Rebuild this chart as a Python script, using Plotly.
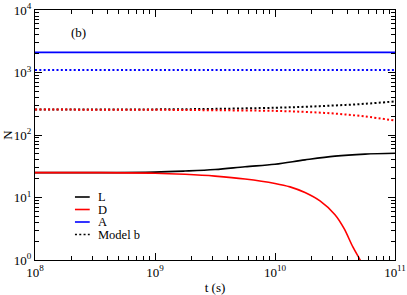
import plotly.graph_objects as go

# time points (seconds)
t_L = [1e8, 10**8.5, 1e9, 10**9.25, 10**9.5, 10**9.75, 1e10, 10**10.25, 10**10.5, 10**10.75, 1e11]
N_L = [25, 25, 25.5, 26.5, 28, 31, 34, 40, 46, 49.5, 51]

t_D = [1e8, 10**8.5, 1e9, 10**9.25, 10**9.5, 10**9.75, 1e10, 10**10.125, 10**10.25, 10**10.375,
       10**10.5, 10**10.575, 10**10.65, 10**10.71, 10**10.75]
N_D = [25, 25, 24.5, 23.5, 22, 19.8, 16.8, 14.8, 12, 8.8, 5.3, 3.2, 1.6, 1.0, 0.7]

t_A = [1e8, 1e11]
N_A = [2100, 2100]

t_model = [1e8, 1e9, 10**9.5, 1e10, 10**10.25, 10**10.5, 10**10.75, 1e11]
N_L_model = [255, 257, 262, 273, 283, 297, 316, 345]
N_D_model = [255, 253, 249, 243, 234, 220, 198, 170]
N_A_model = [1100, 1100, 1100, 1100, 1100, 1100, 1100, 1100]

x_tickvals = [1e8, 1e9, 1e10, 1e11]
x_ticktext = ["10<sup>8</sup>", "10<sup>9</sup>", "10<sup>10</sup>", "10<sup>11</sup>"]
y_tickvals = [1, 10, 100, 1000, 10000]
y_ticktext = ["10<sup>0</sup>", "10<sup>1</sup>", "10<sup>2</sup>", "10<sup>3</sup>", "10<sup>4</sup>"]

legend_names = ["L", "D", "A", "Model b"]
legend_colors = ["black", "red", "blue", "black"]
legend_dashes = ["solid", "solid", "solid", "2px,2.3px"]

x_minor = [m * 10**k for k in range(8, 11) for m in range(2, 10)]
y_minor = [m * 10**k for k in range(0, 4) for m in range(2, 10)]

DOT = "2px,2.3px"
fig = go.Figure()
fig.add_trace(go.Scatter(x=t_L, y=N_L, mode="lines", name="L",
                         line=dict(color="black", width=1.6, shape="spline")))
fig.add_trace(go.Scatter(x=t_D, y=N_D, mode="lines", name="D",
                         line=dict(color="red", width=1.6, shape="spline")))
fig.add_trace(go.Scatter(x=t_A, y=N_A, mode="lines", name="A",
                         line=dict(color="blue", width=1.6)))
fig.add_trace(go.Scatter(x=t_model, y=N_L_model, mode="lines", name="Model b",
                         line=dict(color="black", width=2, dash=DOT, shape="spline")))
fig.add_trace(go.Scatter(x=t_model, y=N_D_model, mode="lines",
                         line=dict(color="red", width=2, dash=DOT, shape="spline")))
fig.add_trace(go.Scatter(x=t_model, y=N_A_model, mode="lines",
                         line=dict(color="blue", width=2, dash=DOT)))

font_family = "Liberation Serif"
axis_common = dict(showline=True, linecolor="black", linewidth=1, mirror="ticks",
                   ticks="inside", ticklen=7, tickcolor="black", showgrid=False,
                   zeroline=False, automargin=False)

fig.update_xaxes(type="log", range=[8, 11], tickvals=x_tickvals, ticktext=x_ticktext,
                 title=dict(text="t (s)", font=dict(size=13, family=font_family)),
                 tickfont=dict(size=13, family=font_family),
                 minor=dict(tickvals=x_minor, ticks="inside", ticklen=4, tickcolor="black"),
                 **axis_common)
fig.update_yaxes(type="log", range=[0, 4], tickvals=y_tickvals, ticktext=y_ticktext,
                 title=dict(text="N", font=dict(size=13, family=font_family)),
                 tickfont=dict(size=13, family=font_family),
                 minor=dict(tickvals=y_minor, ticks="inside", ticklen=4, tickcolor="black"),
                 **axis_common)

fig.add_annotation(text="(b)", x=0.12, y=0.908, xref="paper", yref="paper",
                   xanchor="center", yanchor="middle",
                   showarrow=False, font=dict(size=13, family=font_family, color="black"))

# manual legend
leg_y = [0.252, 0.202, 0.152, 0.102]
for name, col, dash, yy in zip(legend_names, legend_colors, legend_dashes, leg_y):
    fig.add_shape(type="line", xref="paper", yref="paper", x0=0.111, x1=0.152, y0=yy, y1=yy,
                  line=dict(color=col, width=1.6, dash=dash))
    fig.add_annotation(text=name, x=0.172, y=yy, xref="paper", yref="paper",
                       xanchor="left", yanchor="middle", showarrow=False, height=12,
                       borderpad=0,
                       font=dict(size=12.5, family=font_family, color="black"))

fig.update_layout(
    width=407, height=295,
    margin=dict(l=35, r=12, t=10, b=35),
    paper_bgcolor="white", plot_bgcolor="white",
    font=dict(family=font_family, color="black", size=13),
    showlegend=False,
)

fig.write_html("out.html", config={"displayModeBar": False},
               post_script="document.body.style.margin='0';")
